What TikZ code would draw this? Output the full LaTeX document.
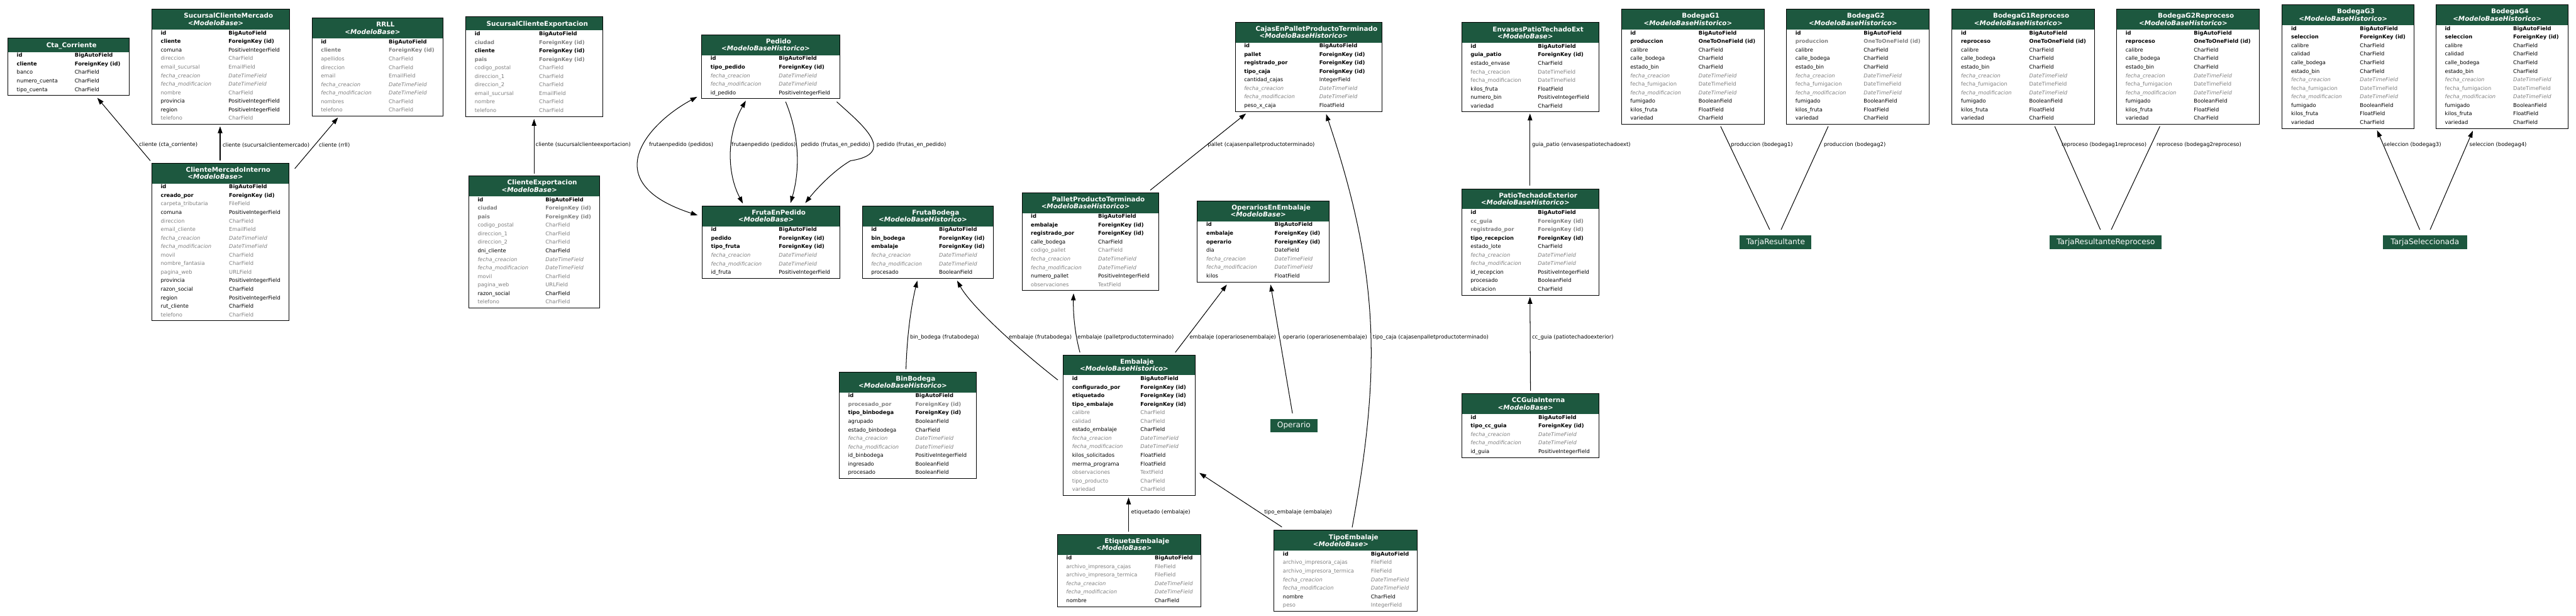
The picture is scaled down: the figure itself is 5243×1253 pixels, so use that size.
\documentclass[tikz,border=0pt]{standalone}
\usepackage{fontspec}
\setmainfont{DejaVu Sans}
\usetikzlibrary{arrows.meta,calc}
\definecolor{hdrgreen}{RGB}{29,88,63}
\definecolor{fgray}{RGB}{128,128,128}
\tikzset{
  >={Triangle[length=14pt,width=9.5pt]},
  tblbox/.style={inner sep=0pt,outer sep=0pt},
  tblborder/.style={draw=black,line width=1.2pt},
  hdrtitle/.style={anchor=base,text=white,inner sep=0pt,font=\fontsize{13.3}{15}\selectfont\bfseries},
  hdrsub/.style={anchor=base,text=white,inner sep=0pt,font=\fontsize{13.3}{15}\selectfont\bfseries\itshape},
  fb/.style={inner sep=0pt,text=black,font=\fontsize{10.7}{12}\selectfont\bfseries},
  fr/.style={inner sep=0pt,text=black,font=\fontsize{10.7}{12}\selectfont},
  fg/.style={inner sep=0pt,text=fgray,font=\fontsize{10.7}{12}\selectfont},
  fi/.style={inner sep=0pt,text=fgray,font=\fontsize{10.7}{12}\selectfont\itshape},
  fgb/.style={inner sep=0pt,text=fgray,font=\fontsize{10.7}{12}\selectfont\bfseries},
  elabel/.style={anchor=west,inner sep=0pt,font=\fontsize{10.8}{12}\selectfont},
  freebox/.style={fill=hdrgreen,text=white,inner sep=0pt,minimum height=28pt,font=\fontsize{15.5}{18}\selectfont},
  rel/.style={draw=black,line width=1.3pt},
  arr/.style={rel,->},
  both/.style={rel,<->},
}
% #1 name, #2 x, #3 y, #4 width, #5 value offset, #6 rows, #7 title, #8 subtitle, #9 rows
\newcommand\mtable[9]{%
  \def\mtsub{#8}%
  \ifx\mtsub\empty\def\mthh{28}\else\def\mthh{41.5}\fi
  \pgfmathsetmacro\mth{\mthh+17.35*#6+1.5}%
  \node[tblbox,minimum width=#4pt,minimum height=\mth pt,anchor=north west] (#1) at (#2,#3) {};
  \fill[hdrgreen] (#2,#3) rectangle ++(#4,\mthh);
  \ifx\mtsub\empty
    \node[hdrtitle] at (#2+#4/2+6,#3+18.5) {#7};
  \else
    \node[hdrtitle] at (#2+#4/2+16,#3+18) {#7};
    \node[hdrsub] at (#2+#4/2-10,#3+32.5) {#8};
  \fi
  \foreach \s/\nm/\ty [count=\i from 0] in {#9} {
    \node[\s,anchor=base west] at (#2+18,#3+\mthh+17.35*\i+10.3) {\nm};
    \node[\s,anchor=base west] at (#2+#5,#3+\mthh+17.35*\i+10.3) {\ty};
  }
  \draw[tblborder] (#1.north west) rectangle (#1.south east);
}
\begin{document}
\begin{tikzpicture}[x=1pt,y=-1pt]
\fill[white] (0,0) rectangle (5243,1253);
\useasboundingbox (0,0) rectangle (5243,1253);

\mtable{cta}{16}{78}{247}{136}{5}{Cta\_Corriente}{}{fb/id/BigAutoField,fb/cliente/ForeignKey (id),fr/banco/CharField,fr/numero\_cuenta/CharField,fr/tipo\_cuenta/CharField}

\mtable{sucmer}{309}{19}{280}{156}{11}{SucursalClienteMercado}{<ModeloBase>}{fb/id/BigAutoField,fb/cliente/ForeignKey (id),fr/comuna/PositiveIntegerField,fg/direccion/CharField,fg/email\_sucursal/EmailField,fi/fecha\_creacion/DateTimeField,fi/fecha\_modificacion/DateTimeField,fg/nombre/CharField,fr/provincia/PositiveIntegerField,fr/region/PositiveIntegerField,fg/telefono/CharField}

\mtable{rrll}{635}{37}{267}{156}{9}{RRLL}{<ModeloBase>}{fb/id/BigAutoField,fgb/cliente/ForeignKey (id),fg/apellidos/CharField,fg/direccion/CharField,fg/email/EmailField,fi/fecha\_creacion/DateTimeField,fi/fecha\_modificacion/DateTimeField,fg/nombres/CharField,fg/telefono/CharField}

\mtable{sucexp}{948}{34}{279}{149}{10}{SucursalClienteExportacion}{}{fb/id/BigAutoField,fgb/ciudad/ForeignKey (id),fb/cliente/ForeignKey (id),fgb/pais/ForeignKey (id),fg/codigo\_postal/CharField,fg/direccion\_1/CharField,fg/direccion\_2/CharField,fg/email\_sucursal/EmailField,fg/nombre/CharField,fg/telefono/CharField}

\mtable{pedido}{1428}{71}{281}{157}{5}{Pedido}{<ModeloBaseHistorico>}{fb/id/BigAutoField,fb/tipo\_pedido/ForeignKey (id),fi/fecha\_creacion/DateTimeField,fi/fecha\_modificacion/DateTimeField,fr/id\_pedido/PositiveIntegerField}

\mtable{cmi}{309}{332}{279}{157}{16}{ClienteMercadoInterno}{<ModeloBase>}{fb/id/BigAutoField,fb/creado\_por/ForeignKey (id),fg/carpeta\_tributaria/FileField,fr/comuna/PositiveIntegerField,fg/direccion/CharField,fg/email\_cliente/EmailField,fi/fecha\_creacion/DateTimeField,fi/fecha\_modificacion/DateTimeField,fg/movil/CharField,fg/nombre\_fantasia/CharField,fg/pagina\_web/URLField,fr/provincia/PositiveIntegerField,fr/razon\_social/CharField,fr/region/PositiveIntegerField,fr/rut\_cliente/CharField,fg/telefono/CharField}

\mtable{ce}{954}{358}{267}{156}{13}{ClienteExportacion}{<ModeloBase>}{fb/id/BigAutoField,fgb/ciudad/ForeignKey (id),fgb/pais/ForeignKey (id),fg/codigo\_postal/CharField,fg/direccion\_1/CharField,fg/direccion\_2/CharField,fr/dni\_cliente/CharField,fi/fecha\_creacion/DateTimeField,fi/fecha\_modificacion/DateTimeField,fg/movil/CharField,fg/pagina\_web/URLField,fr/razon\_social/CharField,fg/telefono/CharField}

\mtable{fep}{1429}{419}{280}{156}{6}{FrutaEnPedido}{<ModeloBase>}{fb/id/BigAutoField,fb/pedido/ForeignKey (id),fb/tipo\_fruta/ForeignKey (id),fi/fecha\_creacion/DateTimeField,fi/fecha\_modificacion/DateTimeField,fr/id\_fruta/PositiveIntegerField}

\mtable{frutabodega}{1755}{419}{267}{156}{6}{FrutaBodega}{<ModeloBaseHistorico>}{fb/id/BigAutoField,fb/bin\_bodega/ForeignKey (id),fb/embalaje/ForeignKey (id),fi/fecha\_creacion/DateTimeField,fi/fecha\_modificacion/DateTimeField,fr/procesado/BooleanField}

\mtable{cajas}{2514}{45}{299}{171}{8}{CajasEnPalletProductoTerminado}{<ModeloBaseHistorico>}{fb/id/BigAutoField,fb/pallet/ForeignKey (id),fb/registrado\_por/ForeignKey (id),fb/tipo\_caja/ForeignKey (id),fr/cantidad\_cajas/IntegerField,fi/fecha\_creacion/DateTimeField,fi/fecha\_modificacion/DateTimeField,fr/peso\_x\_caja/FloatField}

\mtable{pallet}{2080}{392}{279}{155}{9}{PalletProductoTerminado}{<ModeloBaseHistorico>}{fb/id/BigAutoField,fb/embalaje/ForeignKey (id),fb/registrado\_por/ForeignKey (id),fr/calle\_bodega/CharField,fg/codigo\_pallet/CharField,fi/fecha\_creacion/DateTimeField,fi/fecha\_modificacion/DateTimeField,fr/numero\_pallet/PositiveIntegerField,fg/observaciones/TextField}

\mtable{oper}{2437}{409}{268}{157}{7}{OperariosEnEmbalaje}{<ModeloBase>}{fb/id/BigAutoField,fb/embalaje/ForeignKey (id),fb/operario/ForeignKey (id),fr/dia/DateField,fi/fecha\_creacion/DateTimeField,fi/fecha\_modificacion/DateTimeField,fr/kilos/FloatField}

\mtable{envases}{2975}{46}{279}{155}{8}{EnvasesPatioTechadoExt}{<ModeloBase>}{fb/id/BigAutoField,fb/guia\_patio/ForeignKey (id),fr/estado\_envase/CharField,fg/fecha\_creacion/DateTimeField,fg/fecha\_modificacion/DateTimeField,fr/kilos\_fruta/FloatField,fr/numero\_bin/PositiveIntegerField,fr/variedad/CharField}

\mtable{gone}{3300}{19}{291}{157}{11}{BodegaG1}{<ModeloBaseHistorico>}{fb/id/BigAutoField,fb/produccion/OneToOneField (id),fr/calibre/CharField,fr/calle\_bodega/CharField,fr/estado\_bin/CharField,fi/fecha\_creacion/DateTimeField,fg/fecha\_fumigacion/DateTimeField,fi/fecha\_modificacion/DateTimeField,fr/fumigado/BooleanField,fr/kilos\_fruta/FloatField,fr/variedad/CharField}

\mtable{gtwo}{3636}{19}{291}{157}{11}{BodegaG2}{<ModeloBaseHistorico>}{fb/id/BigAutoField,fgb/produccion/OneToOneField (id),fr/calibre/CharField,fr/calle\_bodega/CharField,fr/estado\_bin/CharField,fi/fecha\_creacion/DateTimeField,fg/fecha\_fumigacion/DateTimeField,fi/fecha\_modificacion/DateTimeField,fr/fumigado/BooleanField,fr/kilos\_fruta/FloatField,fr/variedad/CharField}

\mtable{gonerep}{3973}{19}{290}{157}{11}{BodegaG1Reproceso}{<ModeloBaseHistorico>}{fb/id/BigAutoField,fb/reproceso/OneToOneField (id),fr/calibre/CharField,fr/calle\_bodega/CharField,fr/estado\_bin/CharField,fi/fecha\_creacion/DateTimeField,fg/fecha\_fumigacion/DateTimeField,fi/fecha\_modificacion/DateTimeField,fr/fumigado/BooleanField,fr/kilos\_fruta/FloatField,fr/variedad/CharField}

\mtable{gtworep}{4308}{19}{291}{157}{11}{BodegaG2Reproceso}{<ModeloBaseHistorico>}{fb/id/BigAutoField,fb/reproceso/OneToOneField (id),fr/calibre/CharField,fr/calle\_bodega/CharField,fr/estado\_bin/CharField,fi/fecha\_creacion/DateTimeField,fg/fecha\_fumigacion/DateTimeField,fi/fecha\_modificacion/DateTimeField,fr/fumigado/BooleanField,fr/kilos\_fruta/FloatField,fr/variedad/CharField}

\mtable{gthree}{4645}{10}{268}{158}{12}{BodegaG3}{<ModeloBaseHistorico>}{fb/id/BigAutoField,fb/seleccion/ForeignKey (id),fr/calibre/CharField,fr/calidad/CharField,fr/calle\_bodega/CharField,fr/estado\_bin/CharField,fi/fecha\_creacion/DateTimeField,fg/fecha\_fumigacion/DateTimeField,fi/fecha\_modificacion/DateTimeField,fr/fumigado/BooleanField,fr/kilos\_fruta/FloatField,fr/variedad/CharField}

\mtable{gfour}{4958}{10}{269}{157}{12}{BodegaG4}{<ModeloBaseHistorico>}{fb/id/BigAutoField,fb/seleccion/ForeignKey (id),fr/calibre/CharField,fr/calidad/CharField,fr/calle\_bodega/CharField,fr/estado\_bin/CharField,fi/fecha\_creacion/DateTimeField,fg/fecha\_fumigacion/DateTimeField,fi/fecha\_modificacion/DateTimeField,fr/fumigado/BooleanField,fr/kilos\_fruta/FloatField,fr/variedad/CharField}

\mtable{patio}{2975}{384}{279}{155}{10}{PatioTechadoExterior}{<ModeloBaseHistorico>}{fb/id/BigAutoField,fgb/cc\_guia/ForeignKey (id),fgb/registrado\_por/ForeignKey (id),fb/tipo\_recepcion/ForeignKey (id),fr/estado\_lote/CharField,fi/fecha\_creacion/DateTimeField,fi/fecha\_modificacion/DateTimeField,fr/id\_recepcion/PositiveIntegerField,fr/procesado/BooleanField,fr/ubicacion/CharField}

\mtable{bin}{1708}{757}{279}{155}{10}{BinBodega}{<ModeloBaseHistorico>}{fb/id/BigAutoField,fgb/procesado\_por/ForeignKey (id),fb/tipo\_binbodega/ForeignKey (id),fr/agrupado/BooleanField,fr/estado\_binbodega/CharField,fi/fecha\_creacion/DateTimeField,fi/fecha\_modificacion/DateTimeField,fr/id\_binbodega/PositiveIntegerField,fr/ingresado/BooleanField,fr/procesado/BooleanField}

\mtable{emb}{2164}{722}{268}{157}{14}{Embalaje}{<ModeloBaseHistorico>}{fb/id/BigAutoField,fb/configurado\_por/ForeignKey (id),fb/etiquetado/ForeignKey (id),fb/tipo\_embalaje/ForeignKey (id),fg/calibre/CharField,fg/calidad/CharField,fr/estado\_embalaje/CharField,fi/fecha\_creacion/DateTimeField,fi/fecha\_modificacion/DateTimeField,fr/kilos\_solicitados/FloatField,fr/merma\_programa/FloatField,fg/observaciones/TextField,fg/tipo\_producto/CharField,fg/variedad/CharField}

\mtable{etiq}{2152}{1087}{292}{198}{6}{EtiquetaEmbalaje}{<ModeloBase>}{fb/id/BigAutoField,fg/archivo\_impresora\_cajas/FileField,fg/archivo\_impresora\_termica/FileField,fi/fecha\_creacion/DateTimeField,fi/fecha\_modificacion/DateTimeField,fr/nombre/CharField}

\mtable{tipo}{2593}{1079}{292}{197}{7}{TipoEmbalaje}{<ModeloBase>}{fb/id/BigAutoField,fg/archivo\_impresora\_cajas/FileField,fg/archivo\_impresora\_termica/FileField,fi/fecha\_creacion/DateTimeField,fi/fecha\_modificacion/DateTimeField,fr/nombre/CharField,fg/peso/IntegerField}

\mtable{cc}{2975}{801}{280}{156}{5}{CCGuiaInterna}{<ModeloBase>}{fb/id/BigAutoField,fb/tipo\_cc\_guia/ForeignKey (id),fi/fecha\_creacion/DateTimeField,fi/fecha\_modificacion/DateTimeField,fr/id\_guia/PositiveIntegerField}

% free nodes
\node[freebox,minimum width=146pt] (tarjares) at (3614,492.5) {TarjaResultante};
\node[freebox,minimum width=228pt] (tarjarep) at (4286,492.5) {TarjaResultanteReproceso};
\node[freebox,minimum width=171pt] (tarjasel) at (4935.5,492.5) {TarjaSeleccionada};
\node[freebox,minimum width=95pt,minimum height=27pt] (operario) at (2633.5,865.5) {Operario};

% connectors
\draw[arr] ($(cmi.north west)+(-3,-5)$) -- ($(cta.north west)+(182,121)$);
\draw[arr] ($(cmi.north west)+(139,-5)$) -- ($(sucmer.north west)+(139,238)$);
\draw[arr] ($(cmi.north west)+(291,11)$) -- ($(rrll.north west)+(53,202)$);
\draw[arr] ($(ce.north west)+(133,-5)$) -- ($(sucexp.north west)+(139,208)$);

\draw[both] ($(pedido.north west)+(-9,126)$) .. controls (1320,250) and (1210,370) .. ($(fep.north west)+(-9,19)$);
\draw[both] ($(pedido.north west)+(90,134)$) .. controls (1480,270) and (1478,350) .. ($(fep.north west)+(83,-5)$);
\draw[arr] ($(pedido.north west)+(171,136)$) .. controls (1625,270) and (1630,340) .. ($(fep.north west)+(180,-6)$);
\draw[arr] ($(pedido.north west)+(275,136)$) .. controls (1750,250) and (1830,312) .. (1731,327) .. controls (1700,345) and (1665,380) .. ($(fep.north west)+(210,-6)$);

\draw[arr] ($(bin.north west)+(136,-6)$) .. controls (1846,680) and (1855,620) .. ($(frutabodega.north west)+(112,152)$);
\draw[arr] ($(emb.north west)+(-11,51)$) .. controls (2060,700) and (1975,620) .. ($(frutabodega.north west)+(193,152)$);
\draw[arr] ($(emb.north west)+(34,-5)$) .. controls (2188,680) and (2184,640) .. ($(pallet.north west)+(105,205)$);
\draw[arr] ($(emb.north west)+(228,-5)$) -- ($(oper.north west)+(60,170)$);
\draw[arr] ($(operario.north)+(-3,-11)$) -- ($(oper.north west)+(149,170)$);
\draw[arr] ($(tipo.north west)+(159,-6)$) .. controls (2810,760) and (2810,560) .. ($(cajas.north west)+(185,187)$);
\draw[arr] ($(pallet.north west)+(261,-5)$) -- ($(cajas.north west)+(22,186)$);
\draw[arr] ($(etiq.north west)+(145,-5)$) -- ($(emb.north west)+(133,290)$);
\draw[arr] ($(tipo.north west)+(16,-7)$) -- ($(emb.north west)+(277,240)$);
\draw[arr] ($(patio.north west)+(139,-7)$) -- ($(envases.north west)+(139,185)$);
\draw[arr] ($(cc.north west)+(140,-6)$) -- ($(patio.north west)+(139,220)$);

\draw[rel] ($(tarjares.north)+(-12,-11)$) -- ($(gone.north west)+(202,238)$);
\draw[rel] ($(tarjares.north)+(11,-11)$) -- ($(gtwo.north west)+(85,238)$);
\draw[rel] ($(tarjarep.north)+(-11,-11)$) -- ($(gonerep.north west)+(209,238)$);
\draw[rel] ($(tarjarep.north)+(11,-11)$) -- ($(gtworep.north west)+(88,238)$);
\draw[arr] ($(tarjasel.north)+(-10.5,-11)$) -- ($(gthree.north west)+(193,255)$);
\draw[arr] ($(tarjasel.north)+(10.5,-11)$) -- ($(gfour.north west)+(75,256)$);

% connector labels
\node[elabel] (la) at (283,295) {cliente (cta\_corriente)};
\node[elabel] (lb) at (453,295) {cliente (sucursalclientemercado)};
\node[elabel] (lc) at (649,295) {cliente (rrll)};
\node[elabel] (ld) at (1090,295) {cliente (sucursalclienteexportacion)};
\node[elabel] (le) at (1321,295) {frutaenpedido (pedidos)};
\node[elabel] (lf) at (1489,295) {frutaenpedido (pedidos)};
\node[elabel] (lg) at (1630,295) {pedido (frutas\_en\_pedido)};
\node[elabel] (lh) at (1784,295) {pedido (frutas\_en\_pedido)};
\node[elabel] (li) at (2458,295) {pallet (cajasenpalletproductoterminado)};
\node[elabel] (lj) at (3118,295) {guia\_patio (envasespatiotechadoext)};
\node[elabel] (lk) at (3523,295) {produccion (bodegag1)};
\node[elabel] (ll) at (3712,295) {produccion (bodegag2)};
\node[elabel] (lm) at (4196,295) {reproceso (bodegag1reproceso)};
\node[elabel] (ln) at (4389,295) {reproceso (bodegag2reproceso)};
\node[elabel] (lo) at (4852,295) {seleccion (bodegag3)};
\node[elabel] (lp) at (5026,295) {seleccion (bodegag4)};
\node[elabel] (lq) at (1852,686) {bin\_bodega (frutabodega)};
\node[elabel] (lr) at (2053,686) {embalaje (frutabodega)};
\node[elabel] (ls) at (2193,686) {embalaje (palletproductoterminado)};
\node[elabel] (lt) at (2421,686) {embalaje (operariosenembalaje)};
\node[elabel] (lu) at (2611,686) {operario (operariosenembalaje)};
\node[elabel] (lv) at (2794,686) {tipo\_caja (cajasenpalletproductoterminado)};
\node[elabel] (lw) at (3118,686) {cc\_guia (patiotechadoexterior)};
\node[elabel] (lx) at (2302,1042) {etiquetado (embalaje)};
\node[elabel] (ly) at (2573,1042) {tipo\_embalaje (embalaje)};
\end{tikzpicture}
\end{document}
